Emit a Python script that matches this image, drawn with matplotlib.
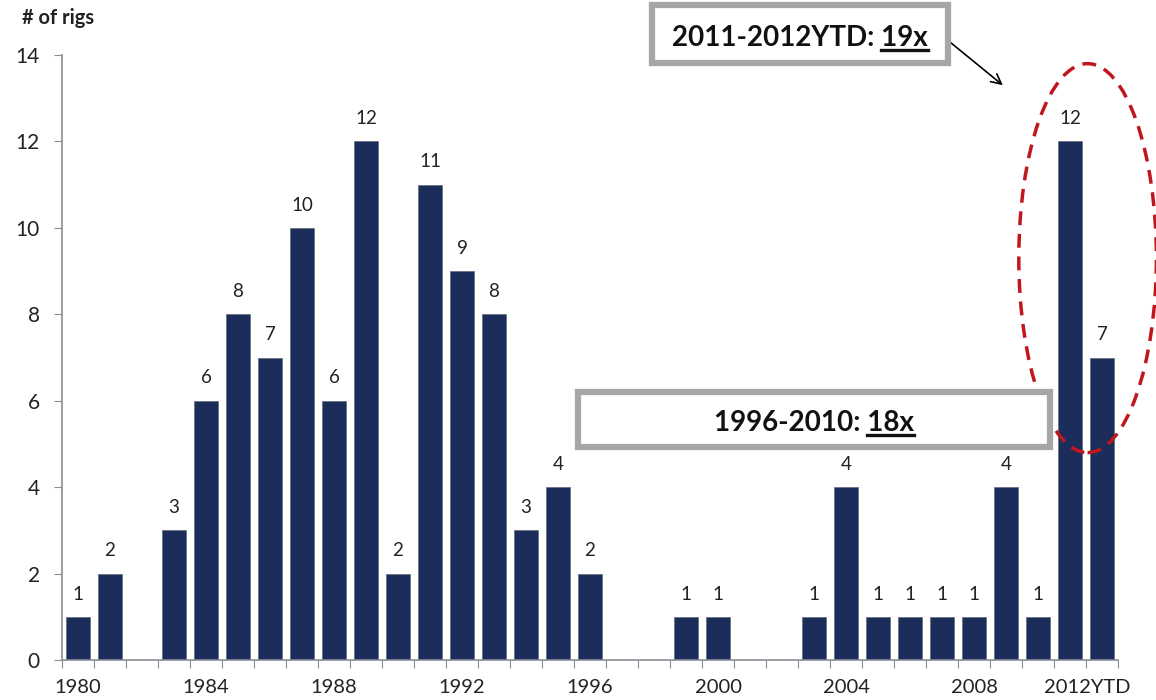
import matplotlib.pyplot as plt
from matplotlib.patches import Ellipse, Rectangle
from matplotlib.lines import Line2D

plt.rcParams['font.family'] = ['Lato', 'DejaVu Sans']

years = list(range(1980, 2013))
rigs = [1, 2, 0, 3, 6, 8, 7, 10, 6, 12, 2, 11, 9, 8, 3, 4, 2, 0, 0, 1, 1,
        0, 0, 1, 4, 1, 1, 1, 1, 4, 1, 12, 7]
tick_labels = ["1980", "1984", "1988", "1992", "1996", "2000", "2004", "2008", "2012YTD"]
tick_years = [1980, 1984, 1988, 1992, 1996, 2000, 2004, 2008, 2012]

bar_color = "#1c2d5b"
axis_gray = "#8c8c96"

fig = plt.figure(figsize=(11.56, 7), dpi=100)
ax = fig.add_axes([62 / 1156, 40 / 700, (1118 - 62) / 1156, (660 - 55) / 700])

x = list(range(len(years)))
ax.bar(x, rigs, width=0.74, color=bar_color, edgecolor="#6b7385", linewidth=0.6)
for xi, v in zip(x, rigs):
    if v > 0:
        ax.text(xi, v + 0.33, str(v), ha="center", va="bottom", fontsize=13.5, color="#222222")

ax.set_xlim(-0.5, len(years) - 0.5)
ax.set_ylim(0, 14)
ax.set_yticks(range(0, 15, 2))
ax.tick_params(axis="y", labelsize=15, length=6, color=axis_gray, pad=10,
               labelcolor="#222222")

# tick marks on category boundaries, labels at category centres
ax.set_xticks([i - 0.5 for i in range(len(years) + 1)])
ax.set_xticklabels([])
ax.tick_params(axis="x", length=6, color=axis_gray)
for lab, yr in zip(tick_labels, tick_years):
    xi = years.index(yr)
    if lab == "2012YTD":
        xi -= 0.45
    ax.text(xi, -0.45, lab, ha="center", va="top", fontsize=14.5, color="#222222")

for s in ["top", "right"]:
    ax.spines[s].set_visible(False)
for s in ["left", "bottom"]:
    ax.spines[s].set_color(axis_gray)
    ax.spines[s].set_linewidth(1.2)

fig.text(22 / 1156, 1 - 18 / 700, "# of rigs", fontsize=14.5, fontweight="bold",
         ha="left", va="center", color="#222222")

# red dashed ellipse around 2011-2012
ell = Ellipse((31.55, 9.3), 4.3, 9.0, fill=False, edgecolor="#c0161e",
              linestyle=(0, (4, 2.5)), linewidth=2.5, clip_on=False)
ax.add_patch(ell)


def fig_px(px, py):
    return px / 1156, 1 - py / 700


def boxed_text(x0, y0, x1, y1, prefix, under, baseline_py):
    bx, by = fig_px(x0, y1)
    w = (x1 - x0) / 1156
    h = (y1 - y0) / 700
    fig.patches.append(Rectangle((bx, by), w, h, transform=fig.transFigure,
                                 facecolor="white", edgecolor="#a6a6a6", linewidth=4.5))
    cx = (x0 + x1) / 2 / 1156
    _, base = fig_px(0, baseline_py)
    t = fig.text(cx, base, prefix + under, fontsize=20, fontweight="bold",
                 ha="center", va="baseline", color="#111111")
    fig.canvas.draw()
    r = fig.canvas.get_renderer()
    bb = t.get_window_extent(r)
    m = fig.text(0, 0, under, fontsize=20, fontweight="bold", alpha=0)
    uw = m.get_window_extent(r).width
    ux1 = bb.x1 / fig.bbox.width
    ux0 = (bb.x1 - uw) / fig.bbox.width
    uy = base - 4 / 700
    fig.lines.append(Line2D([ux0, ux1], [uy, uy], transform=fig.transFigure,
                            color="#111111", linewidth=2.4))


boxed_text(652, 5, 948, 63, "2011-2012YTD: ", "19x", 46)
boxed_text(578, 392, 1050, 447, "1996-2010: ", "18x", 431)

ax.annotate("", xy=fig_px(1005, 87), xytext=fig_px(945, 38),
            xycoords="figure fraction", textcoords="figure fraction",
            arrowprops=dict(arrowstyle="->", color="black", lw=1.2,
                            mutation_scale=18))

fig.savefig("out.png", dpi=100)
